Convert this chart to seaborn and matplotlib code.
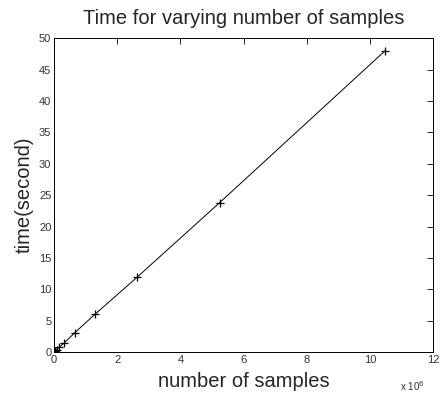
import numpy as np
import pandas as pd
import seaborn as sns
import matplotlib
matplotlib.use("Agg")
import matplotlib.pyplot as plt

# samples in units of 1e6, time in seconds
samples = [0.01024, 0.02048, 0.04096, 0.08192, 0.16384, 0.32768, 0.65536,
           1.31072, 2.62144, 5.24288, 10.48576]
times = [0.05, 0.1, 0.2, 0.4, 0.8, 1.5, 3.1, 6.1, 11.9, 23.8, 48.0]
x_ticks = [0, 2, 4, 6, 8, 10, 12]
y_ticks = [0, 5, 10, 15, 20, 25, 30, 35, 40, 45, 50]

df = pd.DataFrame({"samples": samples, "time": times})

sns.set_style("white")
plt.rcParams["font.family"] = ["Liberation Sans", "DejaVu Sans"]
plt.rcParams["xtick.direction"] = "in"
plt.rcParams["ytick.direction"] = "in"

fig = plt.figure(figsize=(4.4, 3.93), dpi=100)
ax = fig.add_axes([0.123, 0.104, 0.861, 0.799])
sns.lineplot(data=df, x="samples", y="time", ax=ax, color="black", lw=0.7,
             marker="+", markersize=6, markeredgewidth=0.9, markeredgecolor="black")

ax.set_xlim(0, 12)
ax.set_ylim(0, 50)
ax.set_xticks(x_ticks)
ax.set_yticks(y_ticks)
ax.tick_params(axis="both", labelsize=8, colors="#333333", length=4, width=0.6,
               top=True, right=True, pad=2)
ax.tick_params(axis="both", color="black")
for s in ax.spines.values():
    s.set_color("black")
    s.set_linewidth(0.7)

ax.set_title("Time for varying number of samples", fontsize=14.5, pad=10)
ax.set_xlabel("number of samples", fontsize=14.5, labelpad=5)
ax.set_ylabel("time(second)", fontsize=14.5, labelpad=4)
ax.text(0.945, -0.085, "x 10$^6$", transform=ax.transAxes, fontsize=7,
        color="#333333", ha="center", va="top")

fig.savefig("out.png", dpi=100)
